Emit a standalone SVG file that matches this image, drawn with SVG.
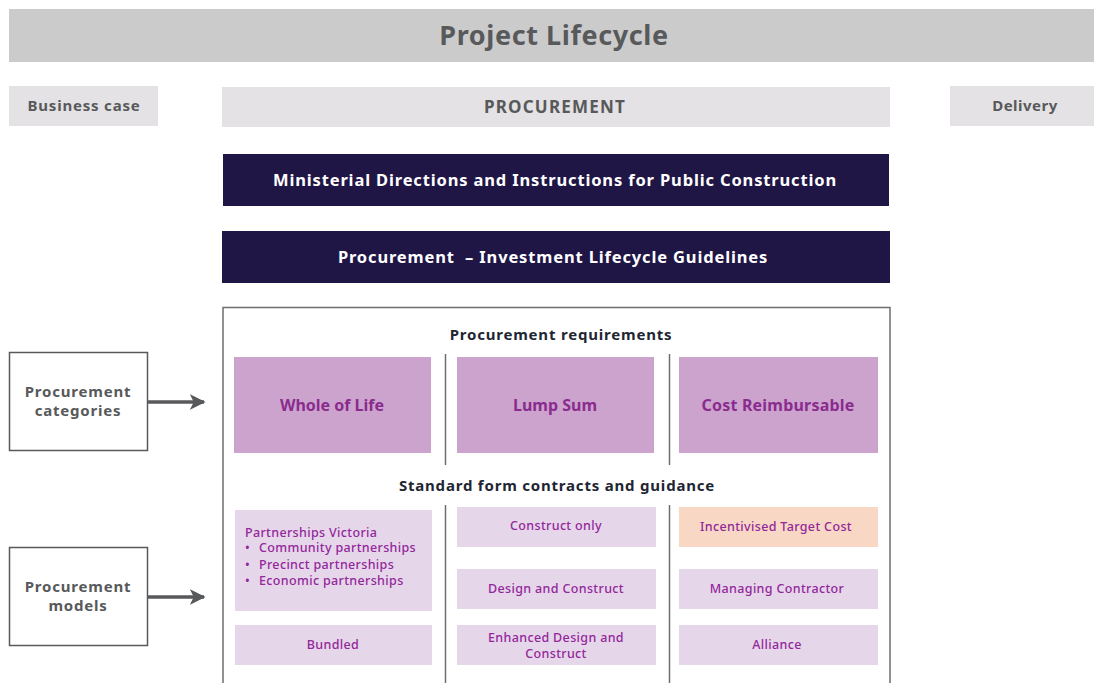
<svg xmlns="http://www.w3.org/2000/svg" width="1094" height="683" viewBox="0 0 1094 683">
<style>
text{font-family:"Noto Sans","Liberation Sans",sans-serif;}
.grey{fill:#58595b;font-weight:700;letter-spacing:0.8px;}
.phase{fill:#e4e2e4;}
.dark{fill:#1f1646;}
.white{fill:#ffffff;font-weight:700;font-size:16.5px;letter-spacing:0.85px;}
.head{fill:#1e2633;font-weight:700;font-size:15px;letter-spacing:0.8px;}
.cat{fill:#cca3cc;}
.catt{fill:#8a2b8f;font-weight:700;font-size:16px;}
.mod{fill:#e6d6ea;}
.orange{fill:#f8d7c4;}
.modt{fill:#93279b;font-size:12.5px;font-weight:500;letter-spacing:0.35px;}
.side{fill:#ffffff;stroke:#58595b;stroke-width:1.5;}
.line{stroke:#6d6e71;stroke-width:1.5;fill:none;}
.arrow{stroke:#58595b;stroke-width:3.5;fill:none;}
</style>
<defs>
<marker id="ah" viewBox="0 0 10 10" refX="9" refY="5" markerWidth="4.5" markerHeight="4.5" orient="auto" markerUnits="strokeWidth">
<path d="M0,0 L10,5 L0,10 L2.5,5 z" fill="#58595b"/>
</marker>
</defs>
<rect width="1094" height="683" fill="#ffffff"/>

<g id="title">
<rect x="9" y="9" width="1085" height="53" fill="#cccbcc"/>
<text x="554" y="45" text-anchor="middle" class="grey" font-size="27" style="letter-spacing:0.6px">Project Lifecycle</text>
</g>
<g id="business-case">
<rect class="phase" x="9" y="86" width="149" height="40"/>
<text x="84" y="111" text-anchor="middle" class="grey" font-size="15">Business case</text>
</g>
<g id="procurement">
<rect class="phase" x="222" y="87" width="668" height="40"/>
<text x="555" y="113" text-anchor="middle" class="grey" font-size="17" style="letter-spacing:1.2px">PROCUREMENT</text>
</g>
<g id="delivery">
<rect class="phase" x="950" y="86" width="144" height="40"/>
<text x="1025" y="111" text-anchor="middle" class="grey" font-size="15" style="letter-spacing:0.5px">Delivery</text>
</g>
<g id="ministerial">
<rect class="dark" x="223" y="154" width="666" height="52"/>
<text x="555" y="186" text-anchor="middle" class="white">Ministerial Directions and Instructions for Public Construction</text>
</g>
<g id="guidelines">
<rect class="dark" x="222" y="231" width="668" height="52"/>
<text x="553" y="263" text-anchor="middle" class="white" xml:space="preserve">Procurement  – Investment Lifecycle Guidelines</text>
</g>

<g id="frame">
<path class="line" d="M223,690 V307.5 H890 V690"/>
<line class="line" x1="445.5" y1="354" x2="445.5" y2="465"/>
<line class="line" x1="669.5" y1="354" x2="669.5" y2="465"/>
<line class="line" x1="445.5" y1="505" x2="445.5" y2="690"/>
<line class="line" x1="669.5" y1="505" x2="669.5" y2="690"/>
<text x="561" y="340" text-anchor="middle" class="head">Procurement requirements</text>
<text x="557" y="491" text-anchor="middle" class="head">Standard form contracts and guidance</text>
</g>

<g id="whole-of-life">
<rect class="cat" x="234" y="357" width="197" height="96"/>
<text x="332" y="411" text-anchor="middle" class="catt">Whole of Life</text>
</g>
<g id="lump-sum">
<rect class="cat" x="457" y="357" width="197" height="96"/>
<text x="555" y="411" text-anchor="middle" class="catt">Lump Sum</text>
</g>
<g id="cost-reimbursable">
<rect class="cat" x="679" y="357" width="199" height="96"/>
<text x="778" y="411" text-anchor="middle" class="catt" style="letter-spacing:0.2px">Cost Reimbursable</text>
</g>

<g id="partnerships-victoria">
<rect class="mod" x="235" y="510" width="197" height="101"/>
<text x="245" y="537" class="modt">Partnerships Victoria</text>
<text x="245" y="552" class="modt">•</text>
<text x="259" y="552" class="modt">Community partnerships</text>
<text x="245" y="569" class="modt">•</text>
<text x="259" y="569" class="modt">Precinct partnerships</text>
<text x="245" y="585" class="modt">•</text>
<text x="259" y="585" class="modt">Economic partnerships</text>
</g>
<g id="bundled">
<rect class="mod" x="235" y="625" width="197" height="40"/>
<text x="333" y="649" text-anchor="middle" class="modt">Bundled</text>
</g>
<g id="construct-only">
<rect class="mod" x="457" y="507" width="199" height="40"/>
<text x="556" y="530" text-anchor="middle" class="modt">Construct only</text>
</g>
<g id="design-and-construct">
<rect class="mod" x="457" y="569" width="199" height="40"/>
<text x="556" y="593" text-anchor="middle" class="modt">Design and Construct</text>
</g>
<g id="enhanced-design-and-construct">
<rect class="mod" x="457" y="625" width="199" height="40"/>
<text x="556" y="642" text-anchor="middle" class="modt">Enhanced Design and</text>
<text x="556" y="658" text-anchor="middle" class="modt">Construct</text>
</g>
<g id="incentivised-target-cost">
<rect class="orange" x="679" y="507" width="199" height="40"/>
<text x="776" y="531" text-anchor="middle" class="modt">Incentivised Target Cost</text>
</g>
<g id="managing-contractor">
<rect class="mod" x="679" y="569" width="199" height="40"/>
<text x="777" y="593" text-anchor="middle" class="modt">Managing Contractor</text>
</g>
<g id="alliance">
<rect class="mod" x="679" y="625" width="199" height="40"/>
<text x="777" y="649" text-anchor="middle" class="modt">Alliance</text>
</g>

<g id="procurement-categories">
<rect class="side" x="9.5" y="352.5" width="138" height="98"/>
<text x="78" y="397" text-anchor="middle" class="grey" font-size="15">Procurement</text>
<text x="78" y="416" text-anchor="middle" class="grey" font-size="15">categories</text>
</g>
<g id="procurement-models">
<rect class="side" x="9.5" y="547.5" width="138" height="98"/>
<text x="78" y="592" text-anchor="middle" class="grey" font-size="15">Procurement</text>
<text x="78" y="611" text-anchor="middle" class="grey" font-size="15">models</text>
</g>

<g id="connectors">
<line class="arrow" x1="148" y1="402" x2="204" y2="402" marker-end="url(#ah)"/>
<line class="arrow" x1="148" y1="597" x2="204" y2="597" marker-end="url(#ah)"/>
</g>
</svg>
